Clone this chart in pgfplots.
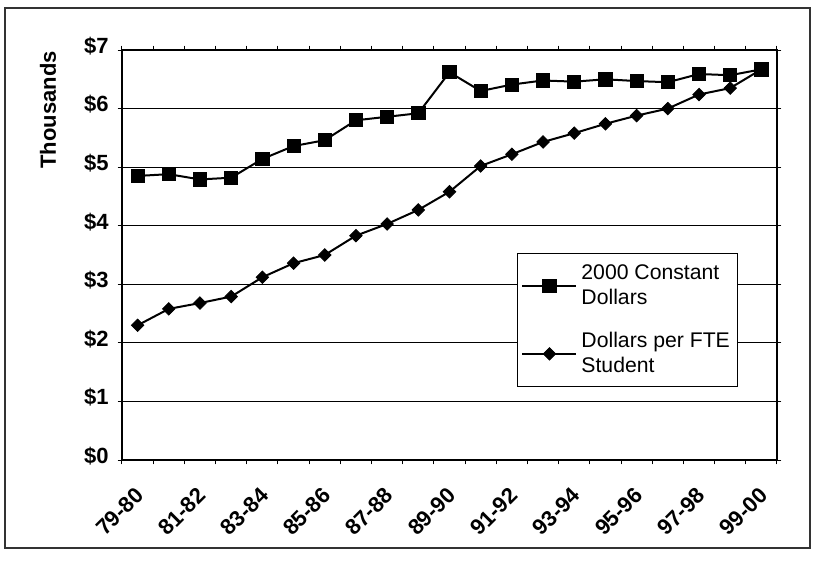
\documentclass[border=0pt]{standalone}
\usepackage{pgfplots}
\pgfplotsset{compat=1.18}
\usepackage{fontspec}
\setmainfont{Liberation Sans}

\begin{document}
\begin{tikzpicture}
\begin{axis}[
  name=ax, at={(0pt,0pt)}, anchor=south west,
  scale only axis, width=327.5pt, height=205pt,
  xmin=-0.5, xmax=20.5, ymin=0, ymax=7,
  % category boundaries carry the small tick marks
  xtick={-0.5,0.5,...,20.5}, xticklabels={},
  extra x ticks={0,2,...,20},
  extra x tick labels={79-80,81-82,83-84,85-86,87-88,89-90,91-92,93-94,95-96,97-98,99-00},
  extra x tick style={major tick length=0pt, grid=none,
    xticklabel style={rotate=45, anchor=north east, xshift=-7pt, yshift=-4.5pt}},
  ytick={0,...,7},
  yticklabels={\$0,\$1,\$2,\$3,\$4,\$5,\$6,\$7},
  yticklabel style={yshift=2pt, xshift=-1pt},
  tick align=outside, major tick length=2.2pt,
  tick style={black, line width=0.5pt},
  ymajorgrids, grid style={black, line width=0.5pt},
  axis line style={black, line width=0.6pt},
  ticklabel style={font=\fontsize{11}{13}\selectfont\bfseries},
  ylabel={Thousands},
  every axis y label/.style={at={(axis description cs:-0.113,0.854)}, rotate=90, anchor=center,
    font=\fontsize{11}{13}\selectfont\bfseries},
  legend style={at={(0.603,0.505)}, anchor=north west, draw=black, line width=0.5pt,
    fill=white, inner xsep=2pt, inner ysep=3.5pt,
    font=\fontsize{10.6}{12.8}\selectfont, row sep=8pt,
    cells={align=left, anchor=west}},
  legend image code/.code={\draw[mark repeat=2,mark phase=2,#1]
    plot coordinates {(0pt,0pt) (13.5pt,0pt) (27pt,0pt)};},
  every axis plot/.append style={black, line width=1pt},
  clip=false,
]
\addplot[mark=square*, mark size=3.3pt, mark options={solid, line width=0.4pt}] table {
x y
0 4.85
1 4.88
2 4.79
3 4.82
4 5.14
5 5.36
6 5.46
7 5.80
8 5.86
9 5.92
10 6.62
11 6.30
12 6.41
13 6.48
14 6.46
15 6.50
16 6.47
17 6.45
18 6.59
19 6.57
20 6.67
};
\addlegendentry{2000 Constant\\Dollars}
\addplot[mark=square*, mark size=2.2pt, mark options={solid, rotate=45, line width=0.4pt}] table {
x y
0 2.30
1 2.58
2 2.68
3 2.79
4 3.12
5 3.36
6 3.50
7 3.83
8 4.03
9 4.27
10 4.58
11 5.02
12 5.22
13 5.43
14 5.58
15 5.74
16 5.88
17 6.00
18 6.24
19 6.35
20 6.67
};
\addlegendentry{Dollars per FTE\\Student}
\end{axis}
% chart area border and page extent
\draw[black!80, line width=0.6pt] (-58.5pt,-44pt) rectangle (344pt,226pt);
\path (-61pt,-51.5pt) rectangle (347pt,230pt);
\end{tikzpicture}
\end{document}
